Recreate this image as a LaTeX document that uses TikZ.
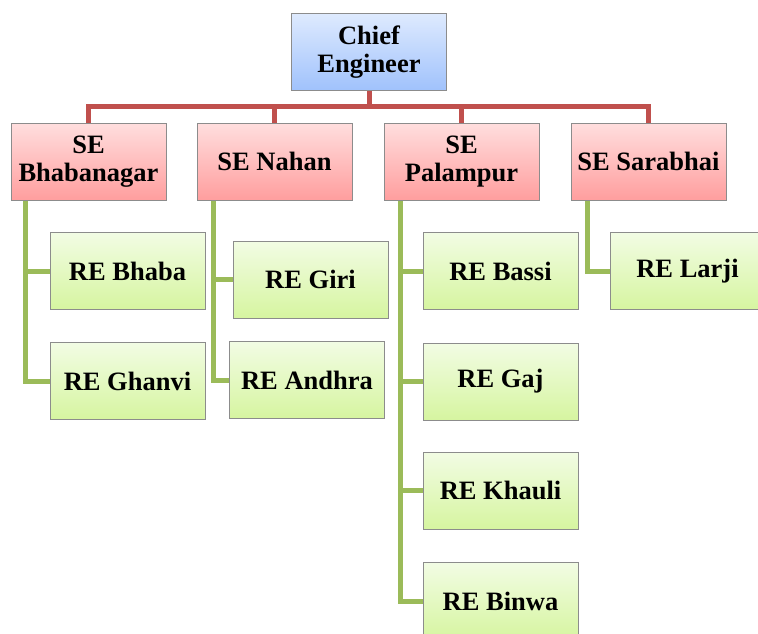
\documentclass[tikz,border=0pt]{standalone}
\usepackage{fontspec}
\setmainfont{Liberation Serif}
\usetikzlibrary{backgrounds}
\begin{document}
\begin{tikzpicture}[x=1pt,y=-1pt,
  box/.style={draw=black!45, line width=0.8pt, minimum width=155pt, minimum height=77pt, inner sep=0pt, align=center,
    font=\fontsize{26.5}{28.5}\selectfont\bfseries},
  cebox/.style={box, top color={rgb,255:red,222;green,234;blue,254}, bottom color={rgb,255:red,160;green,194;blue,252}},
  sebox/.style={box, top color={rgb,255:red,255;green,222;blue,222}, bottom color={rgb,255:red,255;green,158;blue,158}},
  rebox/.style={box, top color={rgb,255:red,242;green,252;blue,228}, bottom color={rgb,255:red,214;green,245;blue,160}},
  redl/.style={draw={rgb,255:red,192;green,80;blue,77}, line width=5pt},
  greenl/.style={draw={rgb,255:red,155;green,187;blue,89}, line width=5pt}]
\useasboundingbox (0,0) rectangle (758,633);
\clip (0,0) rectangle (758,633);
% nodes
\node[cebox] (ce) at (369,52) {Chief\\Engineer};
\node[sebox] (se1) at (88.5,161.5) {SE\\Bhabanagar};
\node[sebox] (se2) at (274.5,161.5) {SE Nahan};
\node[sebox] (se3) at (461.5,161.5) {SE\\Palampur};
\node[sebox] (se4) at (648.5,161.5) {SE Sarabhai};
\node[rebox] (r11) at (127.5,271) {RE Bhaba};
\node[rebox] (r12) at (127.5,381) {RE Ghanvi};
\node[rebox] (r21) at (310.5,279.5) {RE Giri};
\node[rebox] (r22) at (307,380) {RE Andhra};
\node[rebox] (r31) at (500.5,271) {RE Bassi};
\node[rebox] (r32) at (500.5,381.5) {RE Gaj};
\node[rebox] (r33) at (500.5,490.5) {RE Khauli};
\node[rebox] (r34) at (500.5,601) {RE Binwa};
\node[rebox] (r41) at (687.5,271) {RE Larji};
% connectors
\coordinate (bus) at (369,106);
\coordinate (g1) at ([xshift=15pt]se1.south west);
\coordinate (g2) at ([xshift=17pt]se2.south west);
\coordinate (g3) at ([xshift=17pt]se3.south west);
\coordinate (g4) at ([xshift=17pt]se4.south west);
\begin{scope}[on background layer]
\draw[redl] (ce.south) -- (bus);
\draw[redl] (bus) -| (se1.north);
\draw[redl] (bus) -| (se2.north);
\draw[redl] (bus) -| (se3.north);
\draw[redl] (bus) -| (se4.north);
\draw[greenl] (g1) |- (r11.west);
\draw[greenl] (g1) |- (r12.west);
\draw[greenl] (g2) |- (r21.west);
\draw[greenl] (g2) |- (r22.west);
\draw[greenl] (g3) |- (r31.west);
\draw[greenl] (g3) |- (r32.west);
\draw[greenl] (g3) |- (r33.west);
\draw[greenl] (g3) |- (r34.west);
\draw[greenl] (g4) |- (r41.west);
\end{scope}
\end{tikzpicture}
\end{document}
